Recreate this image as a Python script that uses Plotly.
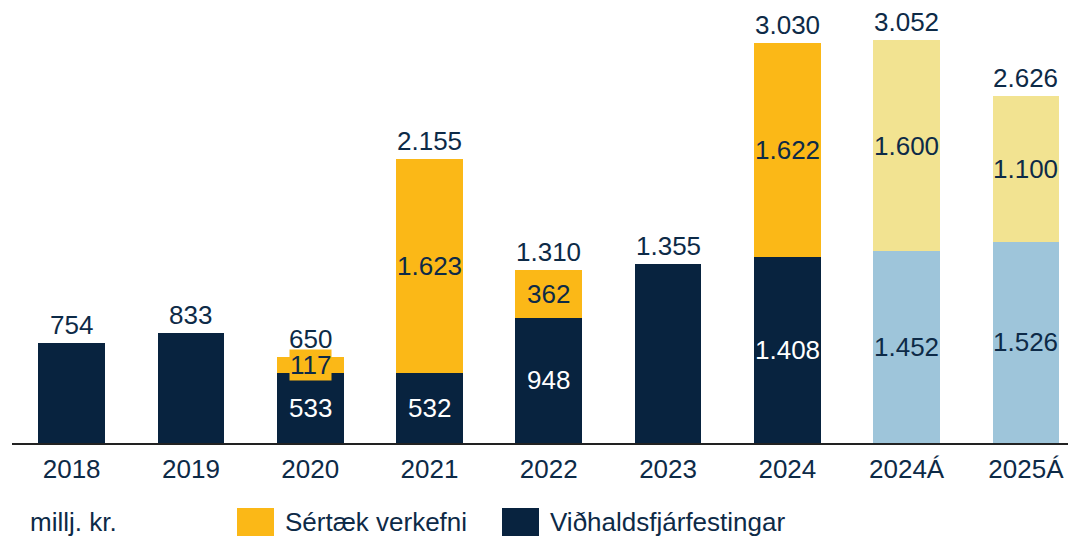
import plotly.graph_objects as go

categories = ["2018", "2019", "2020", "2021", "2022", "2023", "2024", "2024Á", "2025Á"]
vidhald = [754, 833, 533, 532, 948, 1355, 1408, 1452, 1526]
sertaek = [None, None, 117, 1623, 362, None, 1622, 1600, 1100]
is_forecast = [False] * 7 + [True] * 2

NAVY = "#08233f"
GOLD = "#fbb817"
LBLUE = "#9ec5da"
LYELLOW = "#f2e391"
TXT = "#0d2a47"
FONT = "Liberation Sans, Arial, sans-serif"
FS = 26

def fmt(v):
    return f"{v:,}".replace(",", ".")

bottom_colors = [LBLUE if f else NAVY for f in is_forecast]
top_colors = [LYELLOW if f else GOLD for f in is_forecast]

fig = go.Figure()
fig.add_trace(go.Bar(x=categories, y=vidhald, marker_color=bottom_colors, width=0.56,
                     name="Viðhaldsfjárfestingar", showlegend=False, marker_line_width=0))
fig.add_trace(go.Bar(x=categories, y=[s if s else 0 for s in sertaek], marker_color=top_colors,
                     width=0.56, name="Sértæk verkefni", showlegend=False, marker_line_width=0))

for i, (b, s, f) in enumerate(zip(vidhald, sertaek, is_forecast)):
    total = b + (s or 0)
    fig.add_annotation(x=i, y=total, xref="x", yref="y", text=fmt(total), showarrow=False,
                       yanchor="bottom", yshift=1, font=dict(size=FS, color=TXT, family=FONT))
    if s:
        fig.add_annotation(x=i, y=b / 2, xref="x", yref="y", text=fmt(b), showarrow=False,
                           font=dict(size=FS, color=TXT if f else "white", family=FONT))
        small = s < 200
        fig.add_annotation(x=i, y=b + s / 2, xref="x", yref="y", text=fmt(s), showarrow=False,
                           bgcolor=GOLD if small else "rgba(0,0,0,0)", borderpad=0,
                           font=dict(size=FS, color=TXT, family=FONT))

# page has an 8px body margin; work in reference page pixels minus offset
OFF = 8
W, H = 1076 - OFF, 538 - OFF
ml, mr, mt, mb = 12 - OFF, 0, 20 - OFF, 538 - 443
pw, ph = W - ml - mr, H - mt - mb

def px(x):
    return (x - OFF - ml) / pw

def py(y):
    return (H - mb - (y - OFF)) / ph

shapes = [
    dict(type="rect", xref="paper", yref="paper", x0=px(237), x1=px(274), y0=py(536), y1=py(508),
         fillcolor=GOLD, line_width=0),
    dict(type="rect", xref="paper", yref="paper", x0=px(502), x1=px(539), y0=py(536), y1=py(508),
         fillcolor=NAVY, line_width=0),
]
legend_texts = [("millj. kr.", 28), ("Sértæk verkefni", 283), ("Viðhaldsfjárfestingar", 548)]
for t, x in legend_texts:
    fig.add_annotation(x=px(x), y=py(522), xref="paper", yref="paper", text=t, showarrow=False,
                       xanchor="left", yanchor="middle", font=dict(size=FS, color=TXT, family=FONT))

fig.update_layout(
    shapes=shapes,
    barmode="stack",
    width=W, height=H,
    margin=dict(l=ml, r=mr, t=mt, b=mb, pad=0),
    plot_bgcolor="white", paper_bgcolor="white",
    font=dict(family=FONT, size=FS, color=TXT),
    xaxis=dict(range=[-0.5, 8.42], showline=True, linecolor="#222222", linewidth=2,
               ticks="", ticklabelstandoff=2, tickfont=dict(size=FS, color=TXT, family=FONT),
               showgrid=False),
    yaxis=dict(range=[0, 423 / 0.132], visible=False, showgrid=False),
    bargap=0.44,
)

fig.write_html("out.html")
